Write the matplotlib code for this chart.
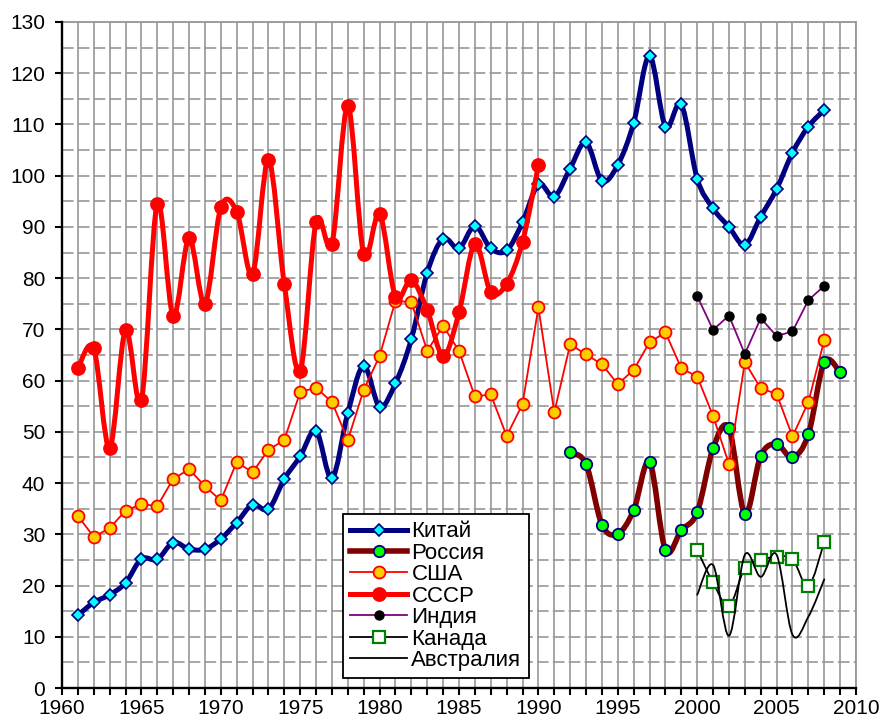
import numpy as np
import matplotlib
matplotlib.use('Agg')  # Use non-interactive backend
import matplotlib.pyplot as plt
from matplotlib.path import Path
from matplotlib.patches import PathPatch
from matplotlib.lines import Line2D
from matplotlib.ticker import MultipleLocator

plt.rcParams['font.family'] = ['Liberation Sans', 'DejaVu Sans']

# Data
china_years = list(range(1961, 2009))
china_vals = [14.2, 16.7, 18.2, 20.5, 25.2, 25.1, 28.4, 27.1, 27.1, 29.1,
              32.3, 35.8, 34.9, 40.8, 45.2, 50.2, 40.9, 53.7, 62.9, 54.9,
              59.5, 68.1, 81.1, 87.7, 85.8, 90.2, 85.8, 85.4, 90.9, 98.3,
              95.9, 101.4, 106.5, 99.0, 102.1, 110.3, 123.4, 109.6, 113.9, 99.4,
              93.6, 90.0, 86.5, 92.0, 97.4, 104.5, 109.6, 112.8]

russia_years = list(range(1992, 2010))
russia_vals = [46.0, 43.7, 31.9, 30.1, 34.7, 44.1, 26.9, 30.8, 34.3, 46.8,
               50.7, 34.0, 45.3, 47.6, 45.0, 49.5, 63.6, 61.6]

usa_years = list(range(1961, 2009))
usa_vals = [33.6, 29.5, 31.2, 34.6, 35.9, 35.5, 40.8, 42.7, 39.4, 36.6,
            44.1, 42.1, 46.5, 48.4, 57.8, 58.6, 55.8, 48.4, 58.2, 64.8,
            75.6, 75.3, 65.8, 70.7, 65.8, 56.9, 57.3, 49.2, 55.4, 74.3,
            53.8, 67.1, 65.1, 63.2, 59.3, 62.1, 67.5, 69.4, 62.4, 60.8,
            53.1, 43.7, 63.6, 58.5, 57.4, 49.1, 55.8, 67.9]

ussr_years = list(range(1961, 1991))
ussr_vals = [62.4, 66.3, 46.8, 69.9, 56.2, 94.5, 72.6, 87.8, 75.0, 93.8,
             93.0, 80.8, 103.1, 78.8, 61.9, 91.0, 86.7, 113.6, 84.7, 92.6,
             76.4, 79.6, 73.8, 64.8, 73.3, 86.7, 77.3, 78.9, 87.1, 102.0]

india_years = list(range(2000, 2009))
india_vals = [76.5, 69.9, 72.7, 65.2, 72.2, 68.7, 69.6, 75.7, 78.5]

canada_years = list(range(2000, 2009))
canada_vals = [26.9, 20.6, 16.0, 23.4, 25.0, 25.6, 25.2, 19.9, 28.5]

australia_years = list(range(2000, 2009))
australia_vals = [18.2, 24.0, 10.2, 26.0, 21.7, 26.0, 10.4, 13.9, 21.2]

labels = ['Китай', 'Россия', 'США', 'СССР', 'Индия', 'Канада', 'Австралия']


def smooth_path(xs, ys):
    # Excel-style smoothed line: cubic Bezier through every point
    pts = np.column_stack([xs, ys]).astype(float)
    n = len(pts)
    verts = [pts[0]]
    codes = [Path.MOVETO]
    for i in range(n - 1):
        p0 = pts[i - 1] if i > 0 else pts[i]
        p1 = pts[i]
        p2 = pts[i + 1]
        p3 = pts[i + 2] if i + 2 < n else pts[i + 1]
        verts += [p1 + (p2 - p0) / 6, p2 - (p3 - p1) / 6, p2]
        codes += [Path.CURVE4] * 3
    return Path(verts, codes)


fig = plt.figure(figsize=(8.85, 7.24), dpi=100)
ax = fig.add_axes([62 / 885, 36 / 724, 794 / 885, 666 / 724])

# series: (x, y, label, line colour, lw, smooth, marker, ms, face, edge, mew)
series = [
    (china_years, china_vals, labels[0], '#000080', 3.6, True, 'D', 6.2, '#00FFFF', '#000080', 1.2),
    (russia_years, russia_vals, labels[1], '#800000', 4.0, True, 'o', 8.2, '#00FF00', '#000080', 1.3),
    (usa_years, usa_vals, labels[2], '#FF0000', 1.3, False, 'o', 8.6, '#FFCC00', '#FF0000', 1.3),
    (ussr_years, ussr_vals, labels[3], '#FF0000', 3.6, True, 'o', 9.6, '#FF0000', '#FF0000', 1.0),
    (india_years, india_vals, labels[4], '#800080', 1.3, False, 'o', 6.5, '#000000', '#000000', 1.0),
    (canada_years, canada_vals, labels[5], '#000000', 1.3, True, 's', 8.6, '#FFFFFF', '#008000', 1.6),
    (australia_years, australia_vals, labels[6], '#000000', 1.3, True, None, 0, 'none', 'none', 0),
]

handles = []
for i, (xs, ys, lab, col, lw, smooth, mk, ms, fc, ec, mew) in enumerate(series):
    z = 3 + i
    if smooth:
        patch = PathPatch(smooth_path(xs, ys), fill=False, edgecolor=col, lw=lw,
                          capstyle='round', joinstyle='round', zorder=z)
        ax.add_patch(patch)
    else:
        ax.plot(xs, ys, color=col, lw=lw, zorder=z, solid_joinstyle='round')
    if mk is not None:
        ax.plot(xs, ys, linestyle='none', marker=mk, ms=ms, mfc=fc, mec=ec,
                mew=mew, zorder=z + 0.5)
    handles.append(Line2D([], [], color=col, lw=lw, marker=mk, ms=ms, mfc=fc,
                          mec=ec, mew=mew))

# Axes limits, ticks and grid
ax.set_xlim(1960, 2010)
ax.set_ylim(0, 130)
ax.xaxis.set_major_locator(MultipleLocator(5))
ax.xaxis.set_minor_locator(MultipleLocator(1))
ax.yaxis.set_major_locator(MultipleLocator(10))
ax.yaxis.set_minor_locator(MultipleLocator(5))
ax.xaxis.set_major_formatter(plt.FuncFormatter(lambda v, p: f'{int(v)}'))

ax.tick_params(axis='both', which='major', direction='out', length=5, width=1.5,
               labelsize=15, color='black')
ax.tick_params(axis='x', which='major', pad=3)
ax.tick_params(axis='y', which='major', pad=7)
ax.tick_params(axis='x', which='minor', direction='out', length=5, width=1.5)
ax.tick_params(axis='y', which='minor', length=0)

ax.set_axisbelow(True)
ax.grid(True, axis='x', which='both', color='#979797', lw=1.2, linestyle='-')
ax.grid(True, axis='y', which='both', color='#979797', lw=1.2, linestyle=(0, (7, 2.5)))

for side in ['left', 'bottom']:
    ax.spines[side].set_color('black')
    ax.spines[side].set_linewidth(1.7)
    ax.spines[side].set_zorder(20)
for side in ['top', 'right']:
    ax.spines[side].set_color('#979797')
    ax.spines[side].set_linewidth(1.3)

leg = ax.legend(handles, labels, loc='upper left',
                bbox_to_anchor=(343 / 885, 1 - 514 / 724),
                bbox_transform=fig.transFigure, borderaxespad=0,
                fontsize=16, frameon=True, fancybox=False, framealpha=1,
                edgecolor='black', labelspacing=0.02, handlelength=2.55,
                handletextpad=0.2, borderpad=0.33)
leg.get_frame().set_linewidth(1.3)
leg.set_zorder(30)

plt.savefig('out.png', dpi=100)
plt.close()
